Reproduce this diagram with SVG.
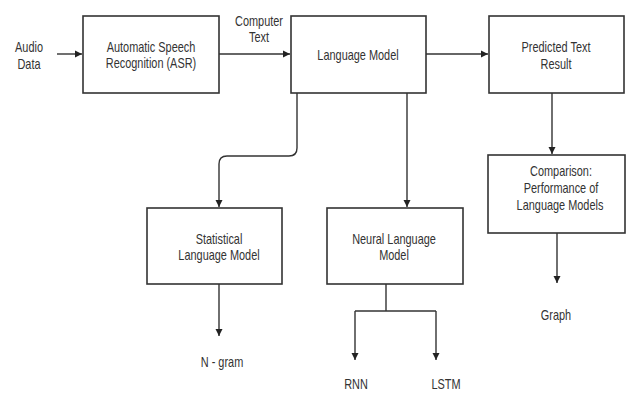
<svg xmlns="http://www.w3.org/2000/svg" width="627" height="393" viewBox="0 0 627 393">
<style>
.box{fill:#fff;stroke:#333;stroke-width:1.6}
.ln{fill:none;stroke:#333;stroke-width:1.4}
.t{font-family:"Liberation Sans",Arial,sans-serif;font-size:14px;fill:#333;text-anchor:middle}
</style>
<defs>
<marker id="ah" markerWidth="8" markerHeight="8" refX="7" refY="4" orient="auto" markerUnits="userSpaceOnUse">
<path d="M0,0.5 L7,4 L0,7.5 Z" fill="#222"/>
</marker>
</defs>
<rect width="627" height="393" fill="#fff"/>
<g id="connectors">
<path class="ln" d="M57,54 H82" marker-end="url(#ah)"/>
<path class="ln" d="M219,54 H290" marker-end="url(#ah)"/>
<path class="ln" d="M426,54 H488" marker-end="url(#ah)"/>
<path class="ln" d="M297,93 V148 Q297,156 289,156 H227 Q219,156 219,164 V207" marker-end="url(#ah)"/>
<path class="ln" d="M407,93 V207" marker-end="url(#ah)"/>
<path class="ln" d="M552,93 V154" marker-end="url(#ah)"/>
<path class="ln" d="M557,233 V283" marker-end="url(#ah)"/>
<path class="ln" d="M219,284 V336" marker-end="url(#ah)"/>
<path class="ln" d="M386,284 V311"/>
<path class="ln" d="M355,311 H436"/>
<path class="ln" d="M355,311 V360" marker-end="url(#ah)"/>
<path class="ln" d="M436,311 V360" marker-end="url(#ah)"/>
</g>
<g id="audio">
<text class="t" transform="translate(29 52) scale(0.78 1)">Audio</text>
<text class="t" transform="translate(29 69) scale(0.78 1)">Data</text>
</g>
<g id="computer-text">
<text class="t" transform="translate(259 26) scale(0.78 1)">Computer</text>
<text class="t" transform="translate(259 42) scale(0.78 1)">Text</text>
</g>
<g id="asr">
<rect class="box" x="83" y="16" width="136" height="77"/>
<text class="t" transform="translate(151 52) scale(0.78 1)">Automatic Speech</text>
<text class="t" transform="translate(151 68) scale(0.78 1)">Recognition (ASR)</text>
</g>
<g id="lm">
<rect class="box" x="291" y="16" width="135" height="77"/>
<text class="t" transform="translate(358 60) scale(0.78 1)">Language Model</text>
</g>
<g id="predicted">
<rect class="box" x="489" y="16" width="135" height="77"/>
<text class="t" transform="translate(556 52) scale(0.78 1)">Predicted Text</text>
<text class="t" transform="translate(556 69) scale(0.78 1)">Result</text>
</g>
<g id="statistical">
<rect class="box" x="147" y="208" width="135" height="76"/>
<text class="t" transform="translate(219 244) scale(0.78 1)">Statistical</text>
<text class="t" transform="translate(219 260) scale(0.78 1)">Language Model</text>
</g>
<g id="neural">
<rect class="box" x="327" y="208" width="136" height="76"/>
<text class="t" transform="translate(394 244) scale(0.78 1)">Neural Language</text>
<text class="t" transform="translate(394 260) scale(0.78 1)">Model</text>
</g>
<g id="comparison">
<rect class="box" x="488" y="155" width="137" height="78"/>
<text class="t" transform="translate(561 176) scale(0.78 1)">Comparison:</text>
<text class="t" transform="translate(561 193) scale(0.78 1)">Performance of</text>
<text class="t" transform="translate(560 210) scale(0.78 1)">Language Models</text>
</g>
<g id="graph">
<text class="t" transform="translate(556 320) scale(0.78 1)">Graph</text>
</g>
<g id="ngram">
<text class="t" transform="translate(222 367) scale(0.78 1)">N - gram</text>
</g>
<g id="rnn">
<text class="t" transform="translate(356 389) scale(0.78 1)">RNN</text>
</g>
<g id="lstm">
<text class="t" transform="translate(446 389) scale(0.78 1)">LSTM</text>
</g>
</svg>
